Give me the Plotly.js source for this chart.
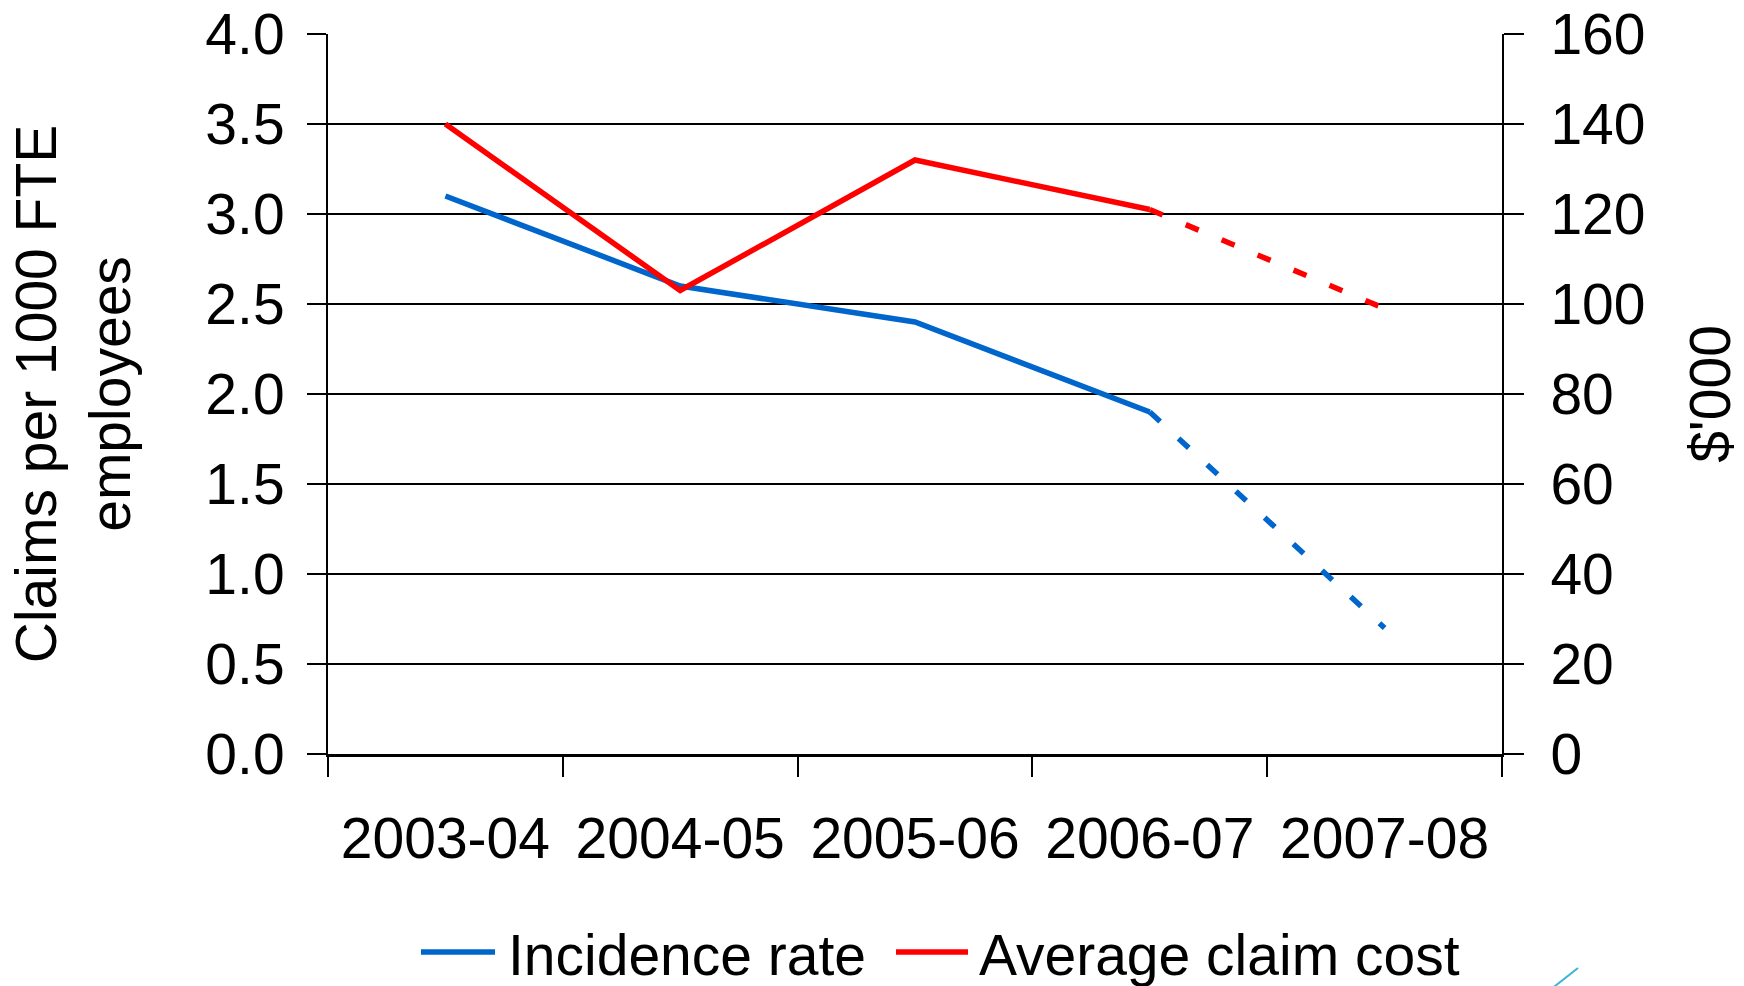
<!DOCTYPE html>
<html>
<head>
<meta charset="utf-8">
<script src="https://cdn.plot.ly/plotly-3.0.1.min.js"></script>
<style>html,body{margin:0;padding:0;background:#fff;}#chart{width:1744px;height:986px;}</style>
</head>
<body>
<div id="chart"></div>
<script>
const categories = ["2003-04", "2004-05", "2005-06", "2006-07", "2007-08"];
// Incidence rate (claims per 1000 FTE employees), left axis
const incidenceActual = [3.1, 2.6, 2.4, 1.9, null];
const incidenceProjected = [null, null, null, 1.9, 0.7];
// Average claim cost ($'000), right axis
const costActual = [140, 103, 132, 121, null];
const costProjected = [null, null, null, 121, 99];
const seriesNames = ["Incidence rate", "Average claim cost"];
const leftTitle = "Claims per 1000 FTE<br>employees";
const rightTitle = "$'000";

const BLUE = "#0066CC", RED = "#FF0000";
const FONT = "Liberation Sans, Arial, sans-serif";
const FS = 57;
const LW = 5.5;

const traces = [
  {x: categories, y: incidenceActual, type: "scatter", mode: "lines", name: seriesNames[0],
   line: {color: BLUE, width: LW}, showlegend: false, connectgaps: false, yaxis: "y"},
  {x: categories, y: incidenceProjected, type: "scatter", mode: "lines", name: seriesNames[0] + " (projected)",
   line: {color: BLUE, width: LW, dash: "14px,25px"}, showlegend: false, yaxis: "y"},
  {x: categories, y: costActual, type: "scatter", mode: "lines", name: seriesNames[1],
   line: {color: RED, width: LW}, showlegend: false, connectgaps: false, yaxis: "y2"},
  {x: categories, y: costProjected, type: "scatter", mode: "lines", name: seriesNames[1] + " (projected)",
   line: {color: RED, width: LW, dash: "14px,25px"}, showlegend: false, yaxis: "y2"}
];

const L = 328, R = 1502, T = 34, B = 754;
const px = v => (v - L) / (R - L);
const py = v => (B - v) / (B - T);

const layout = {
  width: 1744, height: 986,
  margin: {l: L, r: 1744 - R, t: T, b: 986 - B, pad: 0},
  paper_bgcolor: "#fff", plot_bgcolor: "#fff",
  font: {family: FONT, size: FS, color: "#000"},
  showlegend: false,
  xaxis: {
    type: "category", range: [-0.5, 4.5], tickson: "boundaries",
    ticks: "outside", ticklen: 20, tickwidth: 2, tickcolor: "#000",
    showline: true, linewidth: 3, linecolor: "#000", showgrid: false, zeroline: false,
    ticklabelstandoff: 33, tickfont: {size: FS}
  },
  yaxis: {
    range: [0, 4], dtick: 0.5, tick0: 0, tickformat: ".1f",
    ticks: "outside", ticklen: 19, tickwidth: 2, tickcolor: "#000",
    showline: true, linewidth: 2, linecolor: "#000",
    showgrid: true, gridcolor: "#000", gridwidth: 2, zeroline: false,
    ticklabelstandoff: 11, tickfont: {size: FS},
    title: {text: leftTitle, font: {size: FS}, standoff: 56}
  },
  yaxis2: {
    overlaying: "y", side: "right", range: [0, 160], dtick: 20, tick0: 0,
    ticks: "outside", ticklen: 20, tickwidth: 2, tickcolor: "#000",
    showline: true, linewidth: 2, linecolor: "#000",
    showgrid: false, zeroline: false,
    ticklabelstandoff: 15, tickfont: {size: FS},
    title: {text: rightTitle, font: {size: FS}, standoff: 46}
  },
  shapes: [
    {type: "line", xref: "paper", yref: "paper", x0: px(421), x1: px(495), y0: py(952), y1: py(952),
     line: {color: BLUE, width: LW}},
    {type: "line", xref: "paper", yref: "paper", x0: px(896), x1: px(968), y0: py(952), y1: py(952),
     line: {color: RED, width: LW}},
    {type: "line", xref: "paper", yref: "paper", x0: px(1578), x1: px(1550), y0: py(968), y1: py(990),
     line: {color: "#3CB4D4", width: 2}}
  ],
  annotations: [
    {xref: "paper", yref: "paper", x: px(506), y: py(955), xanchor: "left", yanchor: "middle",
     text: seriesNames[0], showarrow: false, font: {size: FS}},
    {xref: "paper", yref: "paper", x: px(977), y: py(955), xanchor: "left", yanchor: "middle",
     text: seriesNames[1], showarrow: false, font: {size: FS}}
  ]
};

Plotly.newPlot("chart", traces, layout, {displayModeBar: false, staticPlot: true});
</script>
</body>
</html>
